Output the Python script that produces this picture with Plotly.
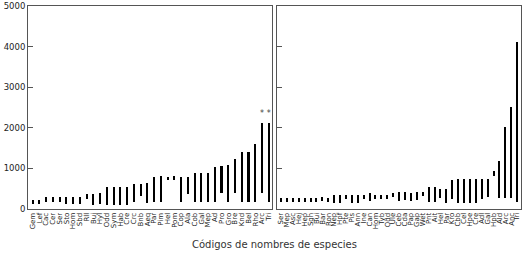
import plotly.graph_objects as go

left_codes = ["Gem", "Lef", "Cac", "Cer", "Ser", "Sto", "Hom", "Sbd", "Rll", "Buj", "Hyl", "Odd",
              "Sym", "Hab", "Cre", "Crc", "Bnb", "Aeq", "Par", "Pim", "Hel", "Pom", "Cop", "Ala",
              "Cob", "Gal", "Mep", "Ad", "Pro", "Gro", "Bre", "Knd", "Bel", "Rho", "Arc", "Tri"]
left_min = [120, 130, 180, 180, 180, 130, 130, 130, 250, 90, 130, 100,
            100, 100, 100, 170, 330, 150, 170, 170, 720, 720, 170, 370,
            170, 170, 170, 170, 400, 170, 400, 170, 170, 170, 400, 170]
left_max = [225, 230, 290, 290, 300, 300, 300, 300, 370, 360, 400, 540,
            540, 540, 540, 620, 620, 640, 780, 810, 780, 810, 790, 790,
            890, 890, 890, 1040, 1050, 1090, 1240, 1410, 1410, 1600, 2120, 2120]
star_codes = ["Arc", "Tri"]
star_value = [2350, 2350]

right_codes = ["Ser", "Mep", "Asc", "Hej", "Hep", "Sgh", "Bui", "Bar", "Ron", "Nep", "Hpf", "Pte",
               "Pis", "Ann", "Ine", "Can", "Hom", "Tyb", "Odd", "Ule", "Ceb", "Cda", "Pap", "Gap",
               "Wet", "Pnt", "Ait", "Hel", "Par", "Kro", "Cbb", "Cel", "Hpe", "Cre", "Adl", "Gal",
               "Hpb", "Ald", "Arc", "Anc", "Tri"]
right_min = [170, 170, 170, 170, 170, 170, 170, 185, 170, 150, 150, 250,
             150, 150, 250, 185, 250, 250, 250, 290, 185, 210, 185, 210,
             330, 170, 170, 270, 150, 250, 150, 150, 150, 150, 250, 290,
             810, 270, 270, 270, 170]
right_max = [270, 270, 270, 270, 270, 270, 270, 290, 270, 350, 350, 350,
             350, 350, 350, 390, 350, 350, 350, 390, 410, 410, 390, 410,
             430, 530, 530, 490, 490, 720, 730, 730, 730, 730, 730, 730,
             935, 1190, 2010, 2520, 4110]

FONT = "DejaVu Sans"
fig = go.Figure()

lx = list(range(len(left_codes)))
rx = list(range(len(right_codes)))

fig.add_trace(go.Bar(x=lx, base=left_min, y=[b - a for a, b in zip(left_min, left_max)],
                     width=0.3, marker=dict(color="black", line=dict(width=0)),
                     xaxis="x", yaxis="y", showlegend=False))
fig.add_trace(go.Scatter(x=[left_codes.index(c) for c in star_codes], y=star_value,
                         mode="text", text=["*"] * len(star_codes),
                         textfont=dict(size=8, color="#444", family=FONT),
                         xaxis="x", yaxis="y", showlegend=False))
fig.add_trace(go.Bar(x=rx, base=right_min, y=[b - a for a, b in zip(right_min, right_max)],
                     width=0.34, marker=dict(color="black", line=dict(width=0)),
                     xaxis="x2", yaxis="y2", showlegend=False))

frame = dict(showline=True, linecolor="#555", linewidth=1, mirror=True, showgrid=False,
             zeroline=False, automargin=False)

ML, MR, MT, MB = 28, 7, 6, 45.5
PW = 528 - ML - MR
PH = 255 - MT - MB


def px(x):
    return (x - ML) / PW


def py(y):
    return (255 - MB - y) / PH


fig.update_layout(
    width=528, height=255,
    margin=dict(l=ML, r=MR, t=MT, b=MB, pad=0, autoexpand=False),
    paper_bgcolor="white", plot_bgcolor="white",
    font=dict(family=FONT, color="#222"),
    bargap=0, barmode="overlay",
    xaxis=dict(domain=[0, px(271.5)], range=[-0.68, 35.41],
               tickvals=lx, ticktext=left_codes, tickangle=-90,
               tickfont=dict(size=7, family=FONT), ticks="", **frame),
    yaxis=dict(domain=[0, 1], range=[0, 5000],
               tickvals=[0, 1000, 2000, 3000, 4000, 5000],
               ticks="inside", ticklen=5, tickcolor="#555",
               tickfont=dict(size=8.5, family=FONT), **frame),
    xaxis2=dict(domain=[px(277), 1], range=[-0.68, 40.65], anchor="y2",
                tickvals=rx, ticktext=right_codes, tickangle=-90,
                tickfont=dict(size=7, family=FONT), ticks="", **frame),
    yaxis2=dict(domain=[0, 1], range=[0, 5000], anchor="x2",
                tickvals=[0, 1000, 2000, 3000, 4000, 5000], showticklabels=False,
                ticks="inside", ticklen=5, tickcolor="#555", **frame),
    annotations=[dict(text="Códigos de nombres de especies", x=px(274), y=py(245),
                      xref="paper", yref="paper", showarrow=False,
                      xanchor="center", yanchor="middle",
                      font=dict(size=10, family=FONT, color="#333"))],
)

fig.write_html("out.html", config={"displayModeBar": False},
               post_script="document.body.style.margin='0';document.body.style.padding='0';")
